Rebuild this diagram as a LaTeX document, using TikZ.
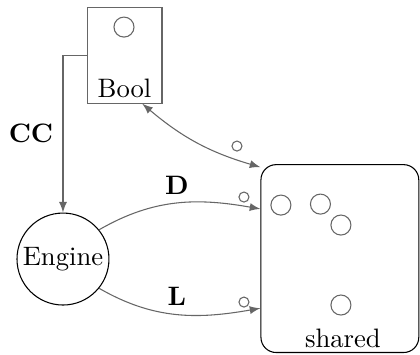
\documentclass[tikz,border=0pt]{standalone}
\usetikzlibrary{arrows}
\begin{document}
\begin{tikzpicture}[
        link/.style={draw=black!60, -latex},
        slot/.style={draw=black!60, circle, minimum size=0.264cm, inner sep=0pt},
        port/.style={draw=black!60, circle, minimum size=0.132cm, inner sep=0pt}
    ]
        \useasboundingbox (0,0) rectangle (5.535,4.666);

        % Blocks
        \node[draw=black!60, fill=white, minimum width=0.988cm, minimum height=1.265cm] (bool) at (1.641,3.940) {};
        \node[slot] (boolslot) at (1.634,4.309) {};
        \node (booltext) at (1.641,3.505) {Bool};

        \node[draw, circle, minimum size=1.212cm, inner sep=0pt] (engine) at (0.830,1.252) {Engine};

        \node[draw, rounded corners=0.2cm, minimum width=2.08cm, minimum height=2.476cm] (shared) at (4.479,1.258) {};
        \node (sharedtext) at (4.519,0.211) {shared};
        \node[slot] (slot1) at (3.702,1.963) {};
        \node[slot] (slot2) at (4.223,1.976) {};
        \node[slot] (slot3) at (4.493,1.700) {};
        \node[slot] (slot4) at (4.493,0.646) {};

        % Labels
        \node (cc) at (0.408,2.912) {\textbf{CC}};
        \node (d) at (2.332,2.220) {\textbf{D}};
        \node (l) at (2.332,0.764) {\textbf{L}};

        % Ports next to the arrows
        \node[port] (port1) at (3.123,2.741) {};
        \node[port] (port2) at (3.215,2.069) {};
        \node[port] (port3) at (3.215,0.685) {};

        % Arrows
        \draw[link] (bool.west) -| (engine.north);
        \draw[link, latex-latex] (bool.-70) to[bend right=12] (shared.131);
        \draw[link] (engine.39) to[out=30, in=170] (shared.148.6);
        \draw[link] (engine.-39) to[out=-30, in=190] (shared.212.4);

    \end{tikzpicture}
\end{document}
